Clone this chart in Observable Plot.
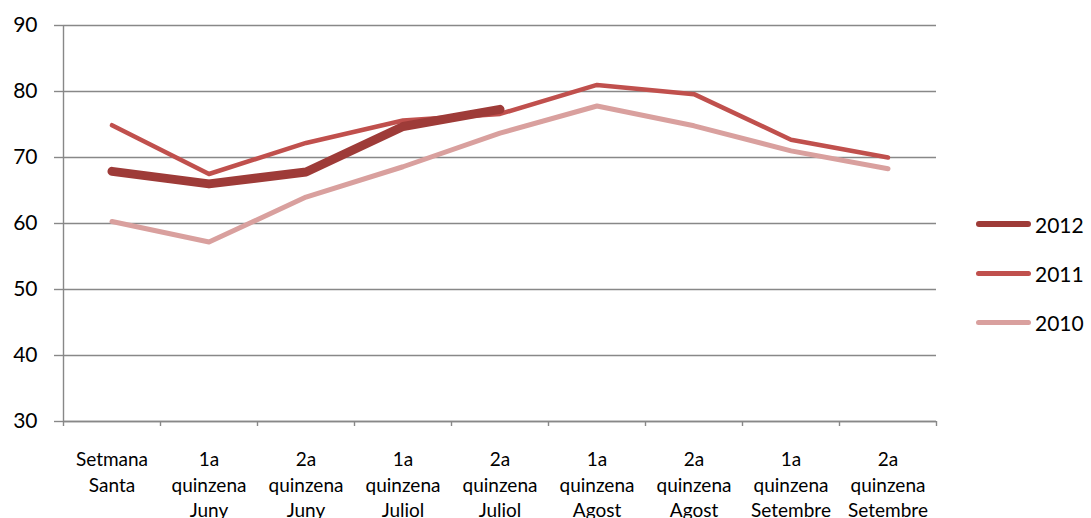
<!DOCTYPE html>
<html><head><meta charset="utf-8">
<script src="https://cdn.jsdelivr.net/npm/d3@7"></script>
<script src="https://cdn.jsdelivr.net/npm/@observablehq/plot@0.6"></script>
<style>
body{margin:0;background:#fff;font-family:Lato,"Open Sans",sans-serif}
#wrap{position:relative;width:1091px;height:518px;overflow:hidden}
#legend{position:absolute;left:976px;top:0;width:115px;height:518px}
.item{position:absolute;left:0;display:flex;align-items:center;height:20px;font-size:21px;color:#000}
.item span.sw{display:inline-block;width:55px;height:5px;border-radius:3px;margin-right:4px}
</style></head><body><div id="wrap"></div>
<script>
const categories = ["Setmana\nSanta","1a\nquinzena\nJuny","2a\nquinzena\nJuny","1a\nquinzena\nJuliol","2a\nquinzena\nJuliol","1a\nquinzena\nAgost","2a\nquinzena\nAgost","1a\nquinzena\nSetembre","2a\nquinzena\nSetembre"];
const years = ["2012","2011","2010"];
const v2012 = [67.9, 66.0, 67.8, 74.7, 77.3];
const v2011 = [74.9, 67.5, 72.2, 75.6, 76.6, 81.0, 79.6, 72.7, 70.0];
const v2010 = [60.3, 57.2, 64.0, 68.6, 73.7, 77.8, 74.8, 71.0, 68.3];
const yTicks = [30, 40, 50, 60, 70, 80, 90];
const colors = ["#9e3b38", "#c0504d", "#d9a09e"];
const widths = [9, 4.5, 5];

const series = [v2012, v2011, v2010];
const rows = [];
series.forEach((vals, s) => vals.forEach((v, i) => rows.push({i, cat: categories[i], year: years[s], value: v})));
const boundaries = d3.range(-0.5, categories.length, 1);
const grey = "#888";

const marks = [
  Plot.gridY(yTicks, {stroke: grey, strokeOpacity: 1, strokeWidth: 1.4}),
  Plot.axisY({ticks: yTicks, tickSize: 9, tickPadding: 17, fontSize: 21, stroke: grey, strokeWidth: 1.4, label: null, color: "#000"}),
  Plot.axisX({ticks: boundaries, tickSize: 5, tickFormat: () => "", stroke: grey, strokeWidth: 1.4, label: null}),
  Plot.ruleX([-0.5], {stroke: grey, strokeWidth: 1.4}),
  Plot.ruleY([30], {stroke: grey, strokeWidth: 1.4}),
  Plot.text(categories, {x: (d, i) => i, y: () => 30, text: d => d, dy: 27, lineAnchor: "top", lineHeight: 1.33, fontSize: 19, fill: "#000"})
];
[2, 1, 0].forEach(s => {
  marks.push(Plot.line(rows.filter(r => r.year === years[s]), {x: "i", y: "value", stroke: colors[s], strokeWidth: widths[s], strokeLinecap: "round", strokeLinejoin: "round"}));
});

const chart = Plot.plot({
  width: 1091, height: 518,
  marginLeft: 63, marginRight: 155, marginTop: 25, marginBottom: 97,
  style: {fontFamily: "Lato, 'Open Sans', sans-serif", background: "#fff", overflow: "visible"},
  x: {type: "linear", domain: [-0.5, categories.length - 0.5], axis: null},
  y: {domain: [30, 90], axis: null},
  marks
});
const wrap = document.getElementById("wrap");
wrap.appendChild(chart);
const legend = document.createElement("div");
legend.id = "legend";
const tops = [214, 263, 312];
years.forEach((y, s) => {
  const it = document.createElement("div");
  it.className = "item";
  it.style.top = tops[s] + "px";
  const sw = document.createElement("span");
  sw.className = "sw";
  sw.style.background = colors[s];
  sw.style.height = (s === 0 ? 6 : 5) + "px";
  it.appendChild(sw);
  it.appendChild(document.createTextNode(y));
  legend.appendChild(it);
});
wrap.appendChild(legend);
</script></body></html>
